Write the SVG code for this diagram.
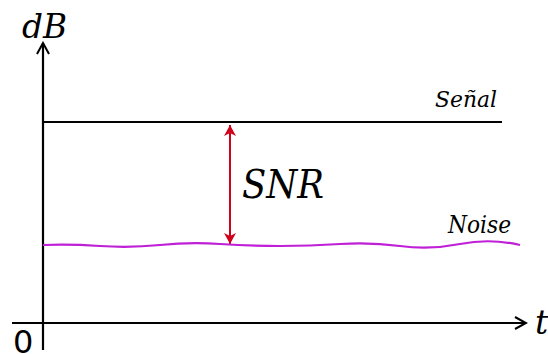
<svg xmlns="http://www.w3.org/2000/svg" width="548" height="354" viewBox="0 0 548 354">
<style>
text.it{font-family:"DejaVu Serif",serif;font-style:italic;fill:#000}
.ax{stroke:#000;stroke-width:2.2;fill:none}
</style>
<defs>
<marker id="chev" markerWidth="14" markerHeight="14" refX="12" refY="7" orient="auto" markerUnits="userSpaceOnUse">
<path d="M1,1 L12,7 L1,13" fill="none" stroke="#000" stroke-width="2"/>
</marker>
<marker id="red" markerWidth="12" markerHeight="22" refX="11" refY="6" orient="auto" markerUnits="userSpaceOnUse">
<path d="M0,0 L11,6 L0,12 L3,6 Z" fill="#d0021b"/>
</marker>
</defs>
<g id="connectors">
<line class="ax" x1="43" y1="350" x2="43" y2="43" marker-end="url(#chev)"/>
<line class="ax" x1="12" y1="323" x2="526" y2="323" marker-end="url(#chev)"/>
<line x1="230" y1="185" x2="230" y2="125" stroke="#d0021b" stroke-width="2" marker-end="url(#red)"/>
<line x1="230" y1="185" x2="230" y2="244" stroke="#d0021b" stroke-width="2" marker-end="url(#red)"/>
</g>
<g id="signal">
<line x1="43" y1="122" x2="502" y2="122" stroke="#000" stroke-width="2.2"/>
<text class="it" x="435" y="107" font-size="23" textLength="62" lengthAdjust="spacingAndGlyphs">Señal</text>
</g>
<g id="noise">
<path d="M43,245 Q70,244 100,246 T160,245 T220,244 T280,246 T340,244 T400,246 T460,244 T520,245" fill="none" stroke="#bf1fd6" stroke-width="2.2"/>
<text class="it" x="448" y="233" font-size="25" textLength="63" lengthAdjust="spacingAndGlyphs">Noise</text>
</g>
<g id="labels">
<text class="it" x="242" y="198" font-size="40" textLength="82" lengthAdjust="spacingAndGlyphs">SNR</text>
<text class="it" x="22" y="38" font-size="34" textLength="45" lengthAdjust="spacingAndGlyphs">dB</text>
<text class="it" x="535" y="334" font-size="33">t</text>
<text x="13" y="353" font-family="'DejaVu Sans', sans-serif" font-size="32" fill="#000">0</text>
</g>
</svg>
